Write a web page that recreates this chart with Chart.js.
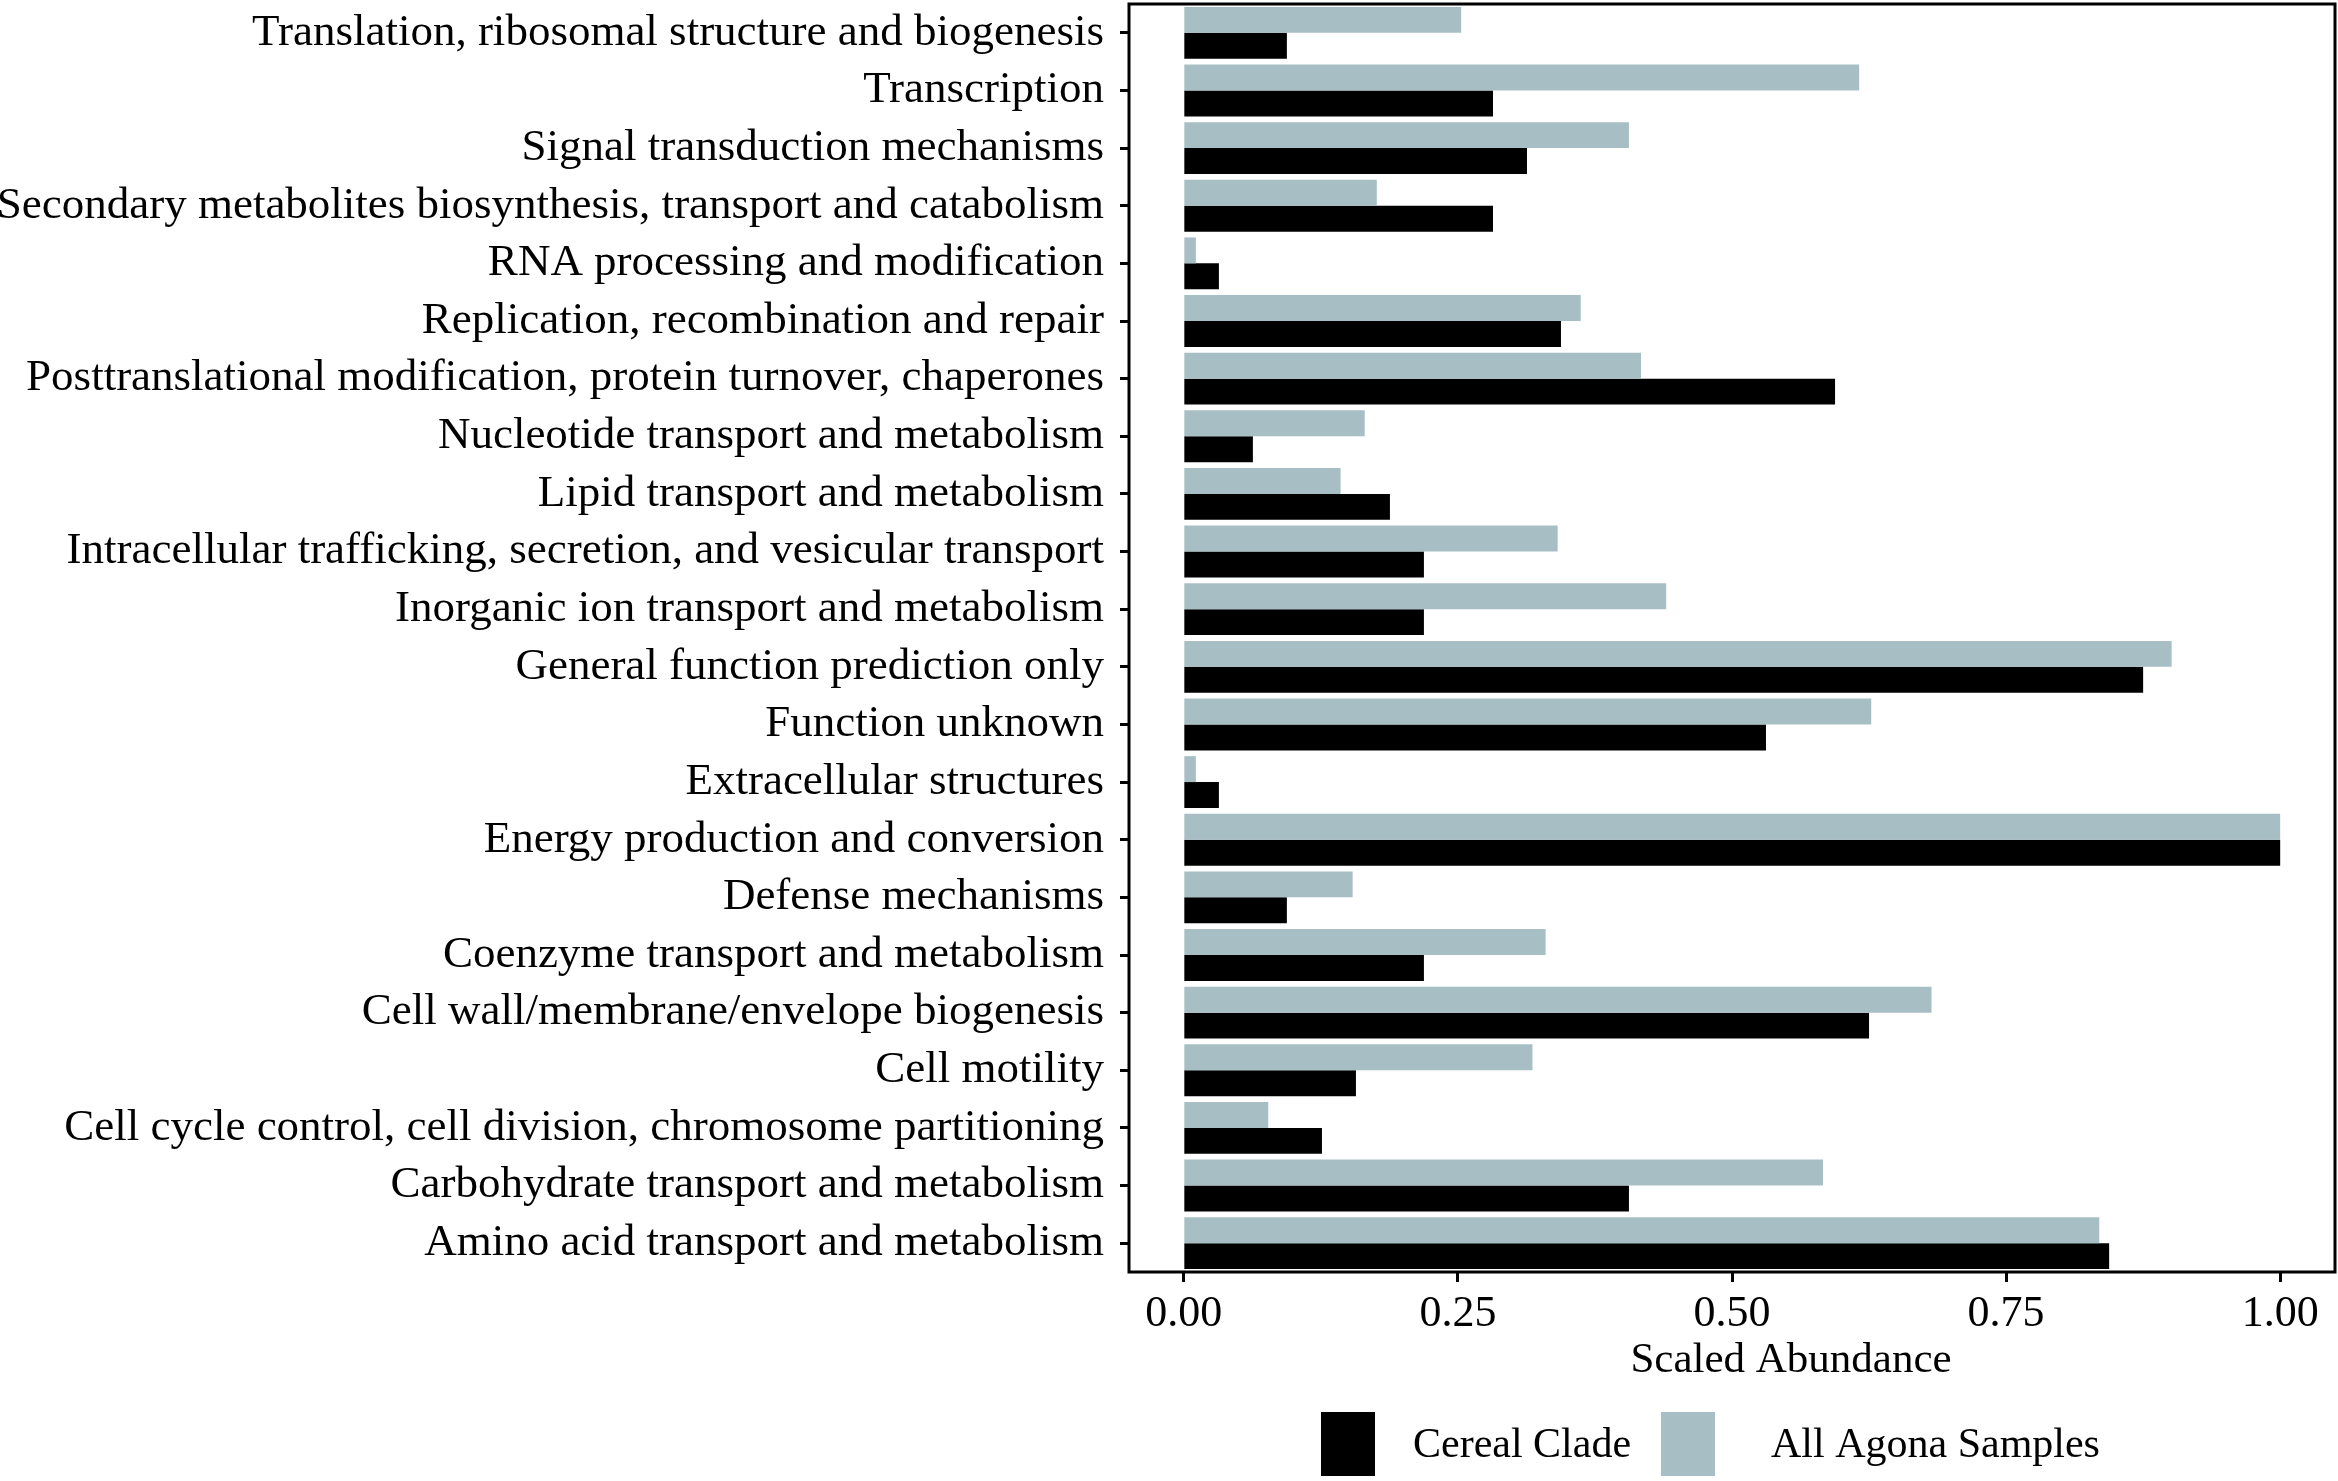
<!DOCTYPE html>
<html>
<head>
<meta charset="utf-8">
<script src="https://cdn.jsdelivr.net/npm/chart.js@4.4.1/dist/chart.umd.min.js"></script>
<style>
  html, body { margin: 0; padding: 0; background: #fff; }
  #wrap { width: 2338px; height: 1481px; }
</style>
</head>
<body>
<div id="wrap"><canvas id="cogChart"></canvas></div>
<script>
// categories, top to bottom as in the figure
var categories = [
  "Translation, ribosomal structure and biogenesis",
  "Transcription",
  "Signal transduction mechanisms",
  "Secondary metabolites biosynthesis, transport and catabolism",
  "RNA processing and modification",
  "Replication, recombination and repair",
  "Posttranslational modification, protein turnover, chaperones",
  "Nucleotide transport and metabolism",
  "Lipid transport and metabolism",
  "Intracellular trafficking, secretion, and vesicular transport",
  "Inorganic ion transport and metabolism",
  "General function prediction only",
  "Function unknown",
  "Extracellular structures",
  "Energy production and conversion",
  "Defense mechanisms",
  "Coenzyme transport and metabolism",
  "Cell wall/membrane/envelope biogenesis",
  "Cell motility",
  "Cell cycle control, cell division, chromosome partitioning",
  "Carbohydrate transport and metabolism",
  "Amino acid transport and metabolism"
];

var cerealClade = [0.094, 0.282, 0.313, 0.282, 0.032, 0.344, 0.594, 0.063, 0.188, 0.219, 0.219,
                   0.875, 0.531, 0.032, 1.000, 0.094, 0.219, 0.625, 0.157, 0.126, 0.406, 0.844];
var allAgona    = [0.253, 0.616, 0.406, 0.176, 0.011, 0.362, 0.417, 0.165, 0.143, 0.341, 0.440,
                   0.901, 0.627, 0.011, 1.000, 0.154, 0.330, 0.682, 0.318, 0.077, 0.583, 0.835];

var xTicks = [0, 0.25, 0.5, 0.75, 1.0];

var FONT = "'Liberation Serif', 'DejaVu Serif', serif";
var GREY = '#a7bfc4';

// box around the panel + axis title + legend
var extras = {
  id: 'extras',
  afterDraw: function(chart) {
    var ctx = chart.ctx, a = chart.chartArea;
    ctx.save();
    ctx.strokeStyle = '#000';
    ctx.lineWidth = 3;
    ctx.strokeRect(a.left, a.top, a.right - a.left, a.bottom - a.top);

    ctx.fillStyle = '#000';
    ctx.font = '43px ' + FONT;
    ctx.textAlign = 'center';
    ctx.textBaseline = 'middle';
    ctx.fillText('Scaled Abundance', 1791, 1361);

    // legend: Cereal Clade first
    var items = [chart.data.datasets[1], chart.data.datasets[0]];
    var boxX = [1321, 1661];
    var textX = [1413, 1771];
    ctx.font = '42px ' + FONT;
    ctx.textAlign = 'left';
    for (var i = 0; i < items.length; i++) {
      ctx.fillStyle = items[i].backgroundColor;
      ctx.fillRect(boxX[i], 1412, 54, 64);
      ctx.fillStyle = '#000';
      ctx.fillText(items[i].label, textX[i], 1446);
    }
    ctx.restore();
  }
};

Chart.defaults.font.family = FONT;
Chart.defaults.color = '#000';

var ctx = document.getElementById('cogChart');
var chart = new Chart(ctx, {
  type: 'bar',
  data: {
    labels: categories,
    datasets: [
      { label: 'All Agona Samples', data: allAgona, backgroundColor: GREY,
        categoryPercentage: 0.9, barPercentage: 1.0 },
      { label: 'Cereal Clade', data: cerealClade, backgroundColor: '#000',
        categoryPercentage: 0.9, barPercentage: 1.0 }
    ]
  },
  options: {
    indexAxis: 'y',
    responsive: true,
    maintainAspectRatio: false,
    animation: false,
    devicePixelRatio: 1,
    layout: { padding: { top: 4, right: 3, left: 0, bottom: 134 } },
    plugins: {
      legend: { display: false },
      tooltip: { enabled: false }
    },
    scales: {
      x: {
        type: 'linear',
        min: -0.05,
        max: 1.05,
        afterBuildTicks: function(scale) {
          scale.ticks = xTicks.map(function(v) { return { value: v }; });
        },
        afterFit: function(scale) {
          scale.height = 75;
          scale.paddingLeft = 0;
          scale.paddingRight = 0;
        },
        grid: { drawOnChartArea: false, tickLength: 10, tickWidth: 3, tickColor: '#000' },
        border: { display: false },
        ticks: {
          font: { size: 44 },
          padding: 6,
          maxRotation: 0,
          callback: function(v) { return Number(v).toFixed(2); }
        }
      },
      y: {
        afterFit: function(scale) {
          scale.width = 1129;
          scale.paddingTop = 0;
          scale.paddingBottom = 0;
        },
        grid: { drawOnChartArea: false, tickLength: 9, tickWidth: 3, tickColor: '#000', offset: false },
        border: { display: false },
        ticks: { font: { size: 45 }, padding: 16, autoSkip: false }
      }
    }
  },
  plugins: [extras]
});
</script>
</body>
</html>
